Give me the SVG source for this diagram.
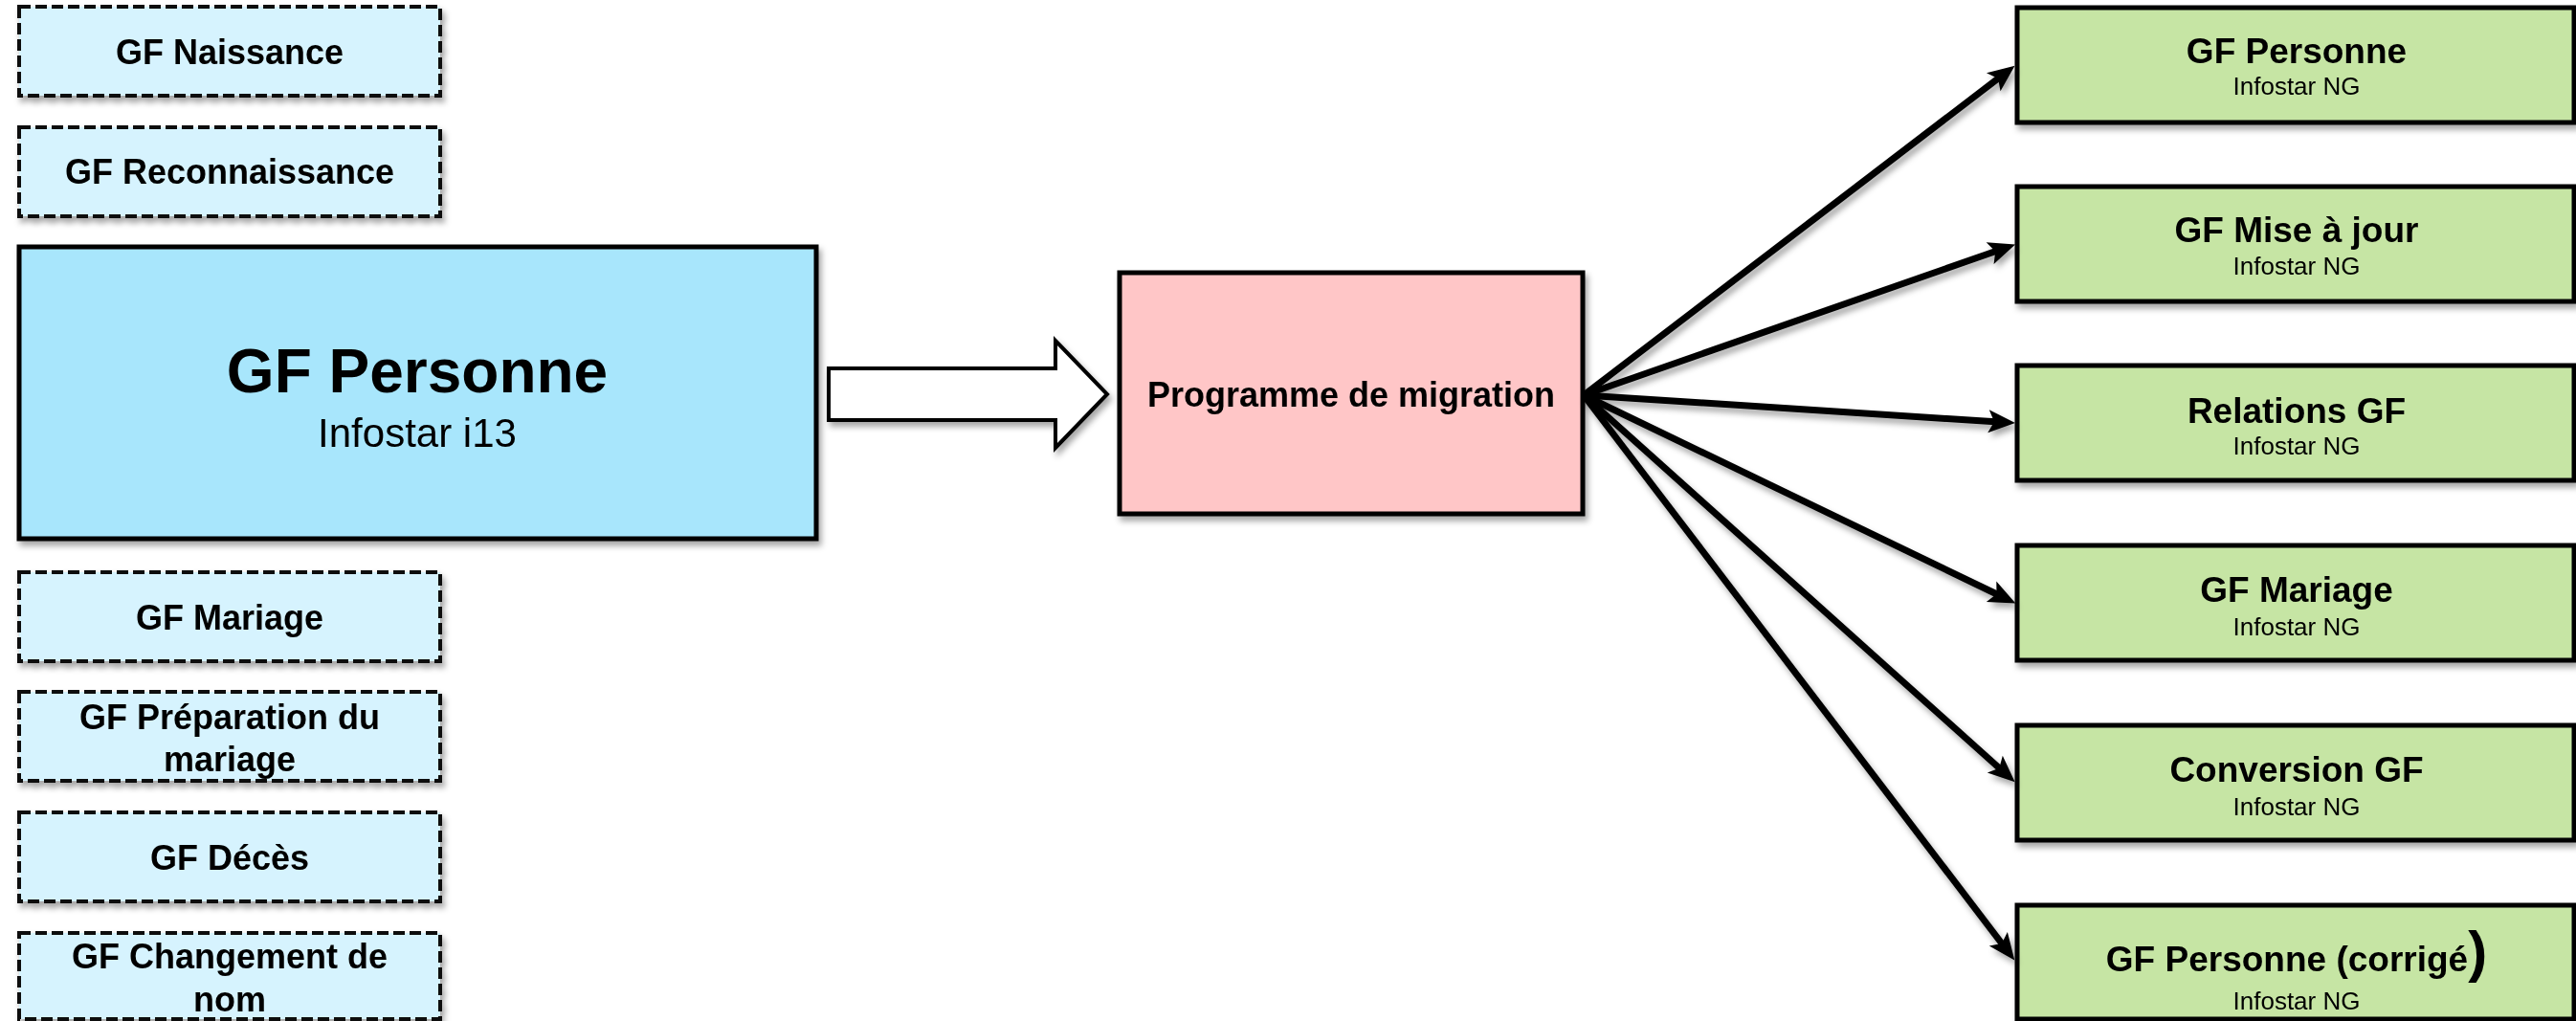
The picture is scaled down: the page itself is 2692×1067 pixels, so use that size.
<svg xmlns="http://www.w3.org/2000/svg" width="2692" height="1067" viewBox="0 0 2692 1067">
<defs>
<filter id="sh" x="-10%" y="-10%" width="125%" height="130%">
<feDropShadow dx="3" dy="5" stdDeviation="3" flood-color="#000" flood-opacity="0.35"/>
</filter>
<marker id="ah" markerUnits="userSpaceOnUse" viewBox="-14 -14 34 28" markerWidth="34" markerHeight="28" refX="0" refY="0" orient="auto">
<path d="M17,0 L-11,-12 L-5,0 L-11,12 Z" fill="#000"/>
</marker>
</defs>
<style>
.small{fill:#D6F3FE;stroke:#111;stroke-width:4;stroke-dasharray:12 5}
.main{fill:#A8E6FC;stroke:#000;stroke-width:5}
.prog{fill:#FFC6C7;stroke:#000;stroke-width:5}
.out{fill:#C6E5A4;stroke:#000;stroke-width:5}
.b{font-family:"Liberation Sans",Arial,sans-serif;font-weight:bold;fill:#000;text-anchor:middle}
.r{font-family:"Liberation Sans",Arial,sans-serif;fill:#000;text-anchor:middle}
.s36{font-size:36px}
.t37{font-size:37px}
.sub{font-size:26px}
.ln{stroke:#000;stroke-width:7;fill:none;marker-end:url(#ah)}
</style>
<rect width="2692" height="1067" fill="#fff"/>

<g id="gf-naissance" filter="url(#sh)">
<rect class="small" x="20" y="7" width="440" height="93"/>
<text class="b s36" x="240" y="67">GF Naissance</text>
</g>
<g id="gf-reconnaissance" filter="url(#sh)">
<rect class="small" x="20" y="133" width="440" height="93"/>
<text class="b s36" x="240" y="192">GF Reconnaissance</text>
</g>
<g id="gf-personne-i13" filter="url(#sh)">
<rect class="main" x="20" y="258" width="833" height="305"/>
<text class="b" x="436" y="410" font-size="64">GF Personne</text>
<text class="r" x="436" y="467" font-size="42">Infostar i13</text>
</g>
<g id="gf-mariage-src" filter="url(#sh)">
<rect class="small" x="20" y="598" width="440" height="93"/>
<text class="b s36" x="240" y="658">GF Mariage</text>
</g>
<g id="gf-preparation" filter="url(#sh)">
<rect class="small" x="20" y="723" width="440" height="93"/>
<text class="b s36" x="240" y="762">GF Préparation du</text>
<text class="b s36" x="240" y="806">mariage</text>
</g>
<g id="gf-deces" filter="url(#sh)">
<rect class="small" x="20" y="849" width="440" height="93"/>
<text class="b s36" x="240" y="909">GF Décès</text>
</g>
<g id="gf-changement" filter="url(#sh)">
<rect class="small" x="20" y="975" width="440" height="90"/>
<text class="b s36" x="240" y="1012">GF Changement de</text>
<text class="b s36" x="240" y="1057">nom</text>
</g>

<g id="programme" filter="url(#sh)">
<rect class="prog" x="1170" y="285" width="484" height="252"/>
<text class="b s36" x="1412" y="425">Programme de migration</text>
</g>

<g id="out-personne" filter="url(#sh)">
<rect class="out" x="2108" y="8" width="582" height="120"/>
<text class="b t37" x="2400" y="66">GF Personne</text>
<text class="r sub" x="2400" y="99">Infostar NG</text>
</g>
<g id="out-miseajour" filter="url(#sh)">
<rect class="out" x="2108" y="195" width="582" height="120"/>
<text class="b t37" x="2400" y="253">GF Mise à jour</text>
<text class="r sub" x="2400" y="287">Infostar NG</text>
</g>
<g id="out-relations" filter="url(#sh)">
<rect class="out" x="2108" y="382" width="582" height="120"/>
<text class="b t37" x="2400" y="442">Relations GF</text>
<text class="r sub" x="2400" y="475">Infostar NG</text>
</g>
<g id="out-mariage" filter="url(#sh)">
<rect class="out" x="2108" y="570" width="582" height="120"/>
<text class="b t37" x="2400" y="629">GF Mariage</text>
<text class="r sub" x="2400" y="664">Infostar NG</text>
</g>
<g id="out-conversion" filter="url(#sh)">
<rect class="out" x="2108" y="758" width="582" height="120"/>
<text class="b t37" x="2400" y="817">Conversion GF</text>
<text class="r sub" x="2400" y="852">Infostar NG</text>
</g>
<g id="out-corrige" filter="url(#sh)">
<rect class="out" x="2108" y="946" width="582" height="119"/>
<text class="b t37" x="2400" y="1015">GF Personne (corrigé<tspan font-size="60">)</tspan></text>
<text class="r sub" x="2400" y="1055">Infostar NG</text>
</g>

<g id="connectors" filter="url(#sh)">
<polygon points="866,385 1103,385 1103,356 1157,412 1103,468 1103,439 866,439" fill="#fff" stroke="#000" stroke-width="4" stroke-linejoin="miter"/>
<line class="ln" x1="1655" y1="413" x2="2092" y2="79"/>
<line class="ln" x1="1655" y1="413" x2="2090" y2="261"/>
<line class="ln" x1="1655" y1="413" x2="2089" y2="441"/>
<line class="ln" x1="1655" y1="413" x2="2091" y2="623"/>
<line class="ln" x1="1655" y1="413" x2="2093" y2="806"/>
<line class="ln" x1="1655" y1="413" x2="2095" y2="990"/>
</g>
</svg>
